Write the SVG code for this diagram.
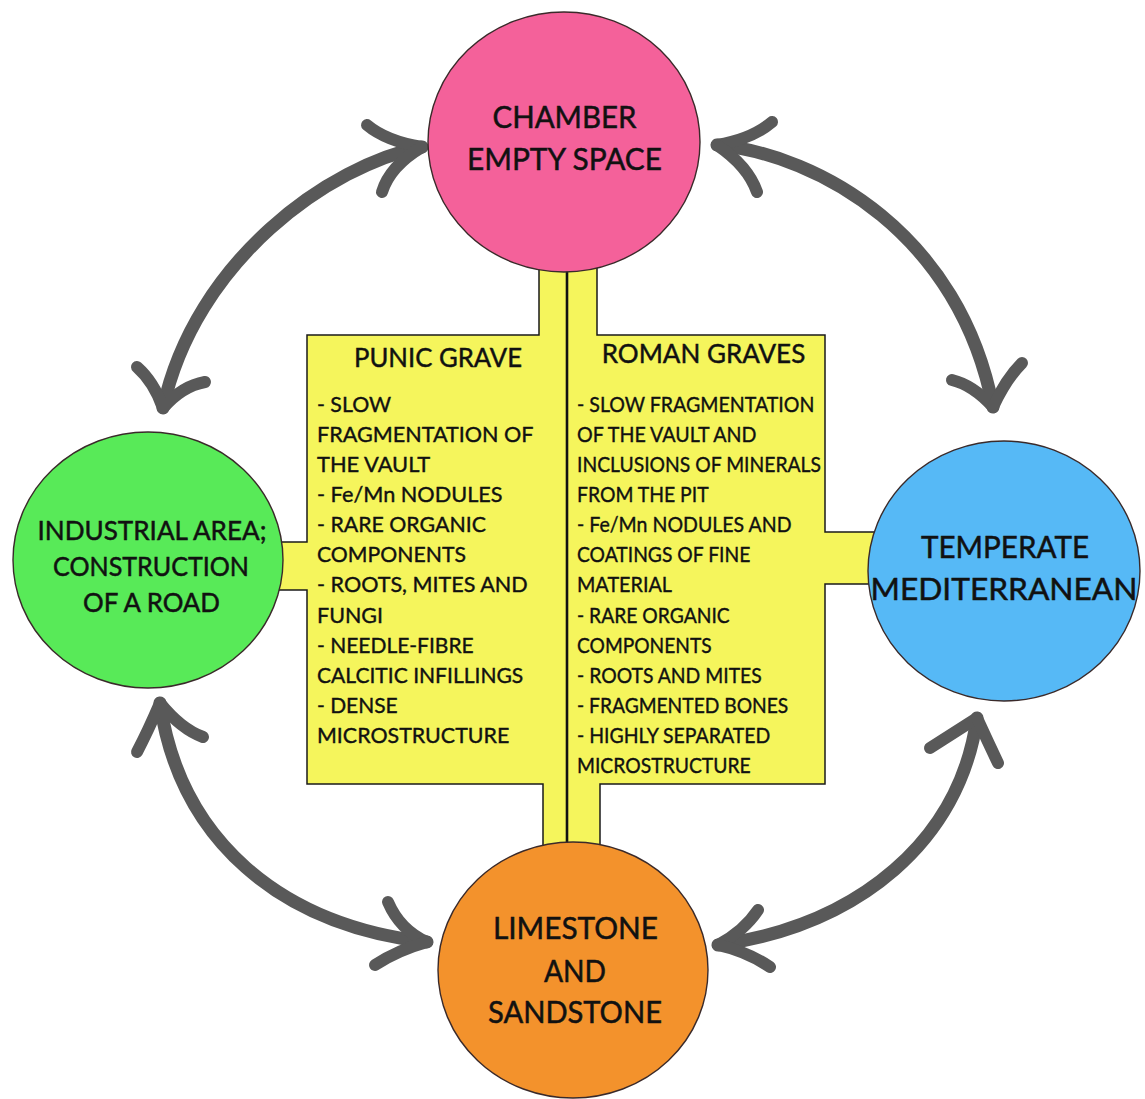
<svg xmlns="http://www.w3.org/2000/svg" width="1145" height="1099" viewBox="0 0 1145 1099">
  <style>
    .bg { fill: #ffffff; }
    .panel { fill: #f5f55c; stroke: #1a1a1a; stroke-width: 1.5; stroke-linejoin: miter; }
    .divider { stroke: #111111; stroke-width: 2.6; fill: none; }
    .node { stroke: #3a2a2a; stroke-width: 1.4; }
    .label { font-family: Lato, "Open Sans", sans-serif; fill: #111111; stroke: #111111; stroke-width: 0.5; text-anchor: middle; }
    .big { font-size: 30.5px; }
    .mid { font-size: 26.6px; }
    .head { font-family: Lato, "Open Sans", sans-serif; fill: #111111; stroke: #111111; stroke-width: 0.45; font-size: 26.5px; text-anchor: middle; }
    .body { font-family: Lato, "Open Sans", sans-serif; fill: #111111; stroke: #111111; stroke-width: 0.4; font-size: 22px; }
    .shaft { fill: none; stroke: #595959; stroke-width: 13; stroke-linecap: round; stroke-linejoin: round; }
    .barb { fill: none; stroke: #595959; stroke-width: 12; stroke-linecap: round; }
  </style>

  <rect class="bg" x="0" y="0" width="1145" height="1099"/>

  <!-- central yellow panel with its four stems -->
  <g id="panel">
    <path class="panel" d="M539,250 L539,335 L307,335 L307,542 L270,542 L270,590 L307,590 L307,784 L543,784 L543,880 L600,880 L600,784 L825,784 L825,584 L880,584 L880,532 L825,532 L825,335 L597,335 L597,250 Z"/>
    <line class="divider" x1="567" y1="250" x2="567" y2="880"/>
  </g>

  <!-- curved double-headed arrows -->
  <g id="connectors">
    <g id="arrow-top-left">
      <path class="shaft" d="M422,147 C330,165 195,260 163,408"/>
      <path class="barb" d="M422,147 Q386,141 367,125"/>
      <path class="barb" d="M422,147 Q390,166 382,192"/>
      <path class="barb" d="M163,408 Q154,382 137,367"/>
      <path class="barb" d="M163,408 Q182,386 205,382"/>
    </g>
    <g id="arrow-top-right">
      <path class="shaft" d="M717,145 C820,155 960,235 993,407"/>
      <path class="barb" d="M717,145 Q752,139 772,122"/>
      <path class="barb" d="M717,145 Q748,166 757,192"/>
      <path class="barb" d="M993,407 Q973,385 952,380"/>
      <path class="barb" d="M993,407 Q1006,379 1022,363"/>
    </g>
    <g id="arrow-bottom-left">
      <path class="shaft" d="M160,703 C180,840 280,925 427,942"/>
      <path class="barb" d="M160,703 Q148,731 137,752"/>
      <path class="barb" d="M160,703 Q181,729 203,737"/>
      <path class="barb" d="M427,942 Q400,930 388,902"/>
      <path class="barb" d="M427,942 Q398,950 375,965"/>
    </g>
    <g id="arrow-bottom-right">
      <path class="shaft" d="M977,718 C960,840 860,925 718,945"/>
      <path class="barb" d="M977,718 Q952,734 930,748"/>
      <path class="barb" d="M977,718 Q988,742 998,763"/>
      <path class="barb" d="M718,945 Q744,931 758,910"/>
      <path class="barb" d="M718,945 Q746,951 770,967"/>
    </g>
  </g>

  <g id="chamber">
    <ellipse class="node" cx="564" cy="142" rx="136" ry="130" fill="#f4619a"/>
    <text class="label big" x="564.5" y="128" textLength="144" lengthAdjust="spacingAndGlyphs">CHAMBER</text>
    <text class="label big" x="564.5" y="170" textLength="195" lengthAdjust="spacingAndGlyphs">EMPTY SPACE</text>
  </g>

  <g id="industrial">
    <ellipse class="node" cx="148" cy="560" rx="135" ry="128" fill="#58ea58"/>
    <text class="label mid" x="152" y="540" textLength="229" lengthAdjust="spacingAndGlyphs">INDUSTRIAL AREA;</text>
    <text class="label mid" x="151" y="576" textLength="196" lengthAdjust="spacingAndGlyphs">CONSTRUCTION</text>
    <text class="label mid" x="151.5" y="612" textLength="137" lengthAdjust="spacingAndGlyphs">OF A ROAD</text>
  </g>

  <g id="climate">
    <ellipse class="node" cx="1004" cy="571" rx="136" ry="130" fill="#56b9f6"/>
    <text class="label big" x="1005" y="558" textLength="168" lengthAdjust="spacingAndGlyphs">TEMPERATE</text>
    <text class="label big" x="1004" y="600" textLength="267" lengthAdjust="spacingAndGlyphs">MEDITERRANEAN</text>
  </g>

  <g id="bedrock">
    <ellipse class="node" cx="573" cy="970" rx="135" ry="128" fill="#f3922c"/>
    <text class="label big" x="575.5" y="939" textLength="165" lengthAdjust="spacingAndGlyphs">LIMESTONE</text>
    <text class="label big" x="575" y="981.5" textLength="62" lengthAdjust="spacingAndGlyphs">AND</text>
    <text class="label big" x="575" y="1023" textLength="174" lengthAdjust="spacingAndGlyphs">SANDSTONE</text>
  </g>

  <!-- panel texts: Punic grave column -->
  <g id="punic-grave">
    <text class="head" x="438" y="367" textLength="168" lengthAdjust="spacingAndGlyphs">PUNIC GRAVE</text>
    <text class="body" x="317" y="411.5" textLength="74" lengthAdjust="spacingAndGlyphs">- SLOW</text>
    <text class="body" x="317" y="441.7" textLength="216.5" lengthAdjust="spacingAndGlyphs">FRAGMENTATION OF</text>
    <text class="body" x="317" y="471.8" textLength="113.3" lengthAdjust="spacingAndGlyphs">THE VAULT</text>
    <text class="body" x="317" y="502" textLength="185.6" lengthAdjust="spacingAndGlyphs">- Fe/Mn NODULES</text>
    <text class="body" x="317" y="532.1" textLength="168.9" lengthAdjust="spacingAndGlyphs">- RARE ORGANIC</text>
    <text class="body" x="317" y="562.3" textLength="148.9" lengthAdjust="spacingAndGlyphs">COMPONENTS</text>
    <text class="body" x="317" y="592.4" textLength="210.7" lengthAdjust="spacingAndGlyphs">- ROOTS, MITES AND</text>
    <text class="body" x="317" y="622.6" textLength="66" lengthAdjust="spacingAndGlyphs">FUNGI</text>
    <text class="body" x="317" y="652.7" textLength="156.7" lengthAdjust="spacingAndGlyphs">- NEEDLE-FIBRE</text>
    <text class="body" x="317" y="682.9" textLength="206.3" lengthAdjust="spacingAndGlyphs">CALCITIC INFILLINGS</text>
    <text class="body" x="317" y="713" textLength="80.7" lengthAdjust="spacingAndGlyphs">- DENSE</text>
    <text class="body" x="317" y="743.2" textLength="192.3" lengthAdjust="spacingAndGlyphs">MICROSTRUCTURE</text>
  </g>

  <!-- panel texts: Roman graves column -->
  <g id="roman-graves">
    <text class="head" x="703.5" y="363" textLength="203.5" lengthAdjust="spacingAndGlyphs">ROMAN GRAVES</text>
    <text class="body" x="577" y="411.5" textLength="237.4" lengthAdjust="spacingAndGlyphs">- SLOW FRAGMENTATION</text>
    <text class="body" x="577" y="441.7" textLength="179.5" lengthAdjust="spacingAndGlyphs">OF THE VAULT AND</text>
    <text class="body" x="577" y="471.8" textLength="244" lengthAdjust="spacingAndGlyphs">INCLUSIONS OF MINERALS</text>
    <text class="body" x="577" y="502" textLength="131.6" lengthAdjust="spacingAndGlyphs">FROM THE PIT</text>
    <text class="body" x="577" y="532.1" textLength="214.5" lengthAdjust="spacingAndGlyphs">- Fe/Mn NODULES AND</text>
    <text class="body" x="577" y="562.3" textLength="173.3" lengthAdjust="spacingAndGlyphs">COATINGS OF FINE</text>
    <text class="body" x="577" y="592.4" textLength="95" lengthAdjust="spacingAndGlyphs">MATERIAL</text>
    <text class="body" x="577" y="622.6" textLength="152.7" lengthAdjust="spacingAndGlyphs">- RARE ORGANIC</text>
    <text class="body" x="577" y="652.7" textLength="134.6" lengthAdjust="spacingAndGlyphs">COMPONENTS</text>
    <text class="body" x="577" y="682.9" textLength="184.8" lengthAdjust="spacingAndGlyphs">- ROOTS AND MITES</text>
    <text class="body" x="577" y="713" textLength="211.3" lengthAdjust="spacingAndGlyphs">- FRAGMENTED BONES</text>
    <text class="body" x="577" y="743.2" textLength="193.2" lengthAdjust="spacingAndGlyphs">- HIGHLY SEPARATED</text>
    <text class="body" x="577" y="773.3" textLength="173.8" lengthAdjust="spacingAndGlyphs">MICROSTRUCTURE</text>
  </g>
</svg>
